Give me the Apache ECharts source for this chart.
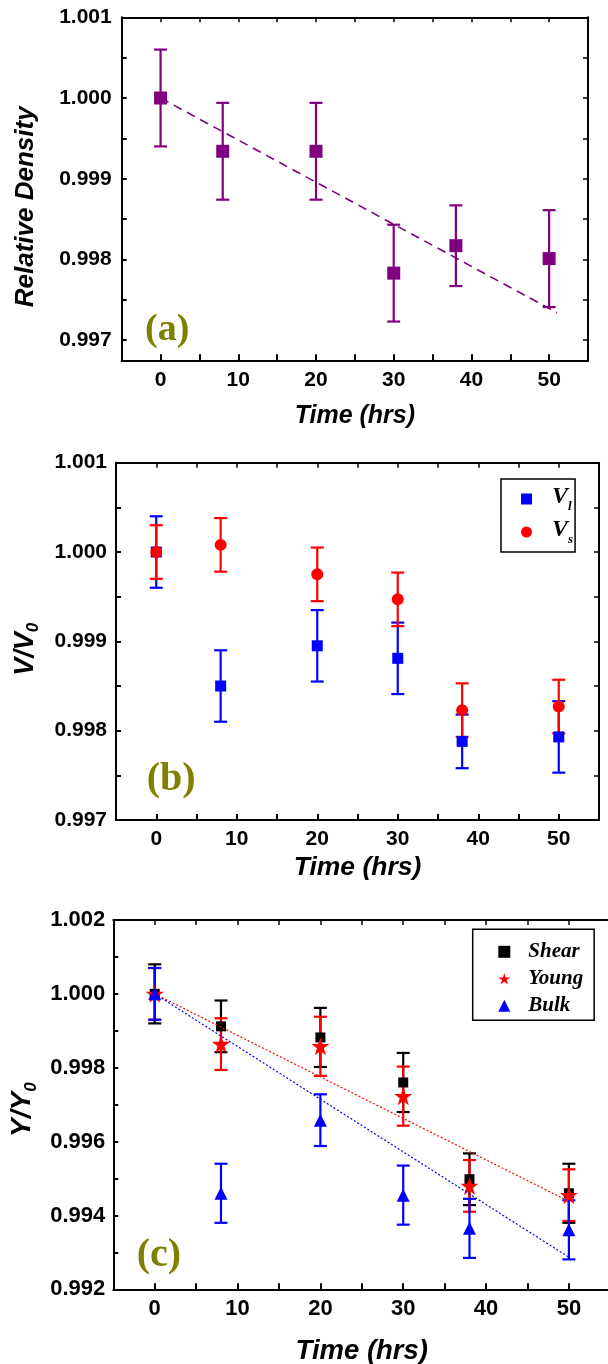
<!DOCTYPE html>
<html>
<head>
<meta charset="utf-8">
<script src="https://cdn.jsdelivr.net/npm/echarts@6/dist/echarts.min.js"></script>
<style>
html,body{margin:0;padding:0;background:#fff;}
#chart{width:608px;height:1364px;}
</style>
</head>
<body>
<div id="chart"></div>
<script>
// ---------- DATA ----------
const timeHrs = [0, 8, 20, 30, 38, 50];

// (a) relative density
const densityA = [1.0, 0.99934, 0.99934, 0.99783, 0.99817, 0.99801];
const densityErrA = [0.0006, 0.0006, 0.0006, 0.0006, 0.0005, 0.0006];
const densityFitX = [0, 51];
const densityFitY = [1.0, 0.99734];

// (b) sound velocities
const vlB = [1.0, 0.99850, 0.99895, 0.99881, 0.99788, 0.99793];
const vlErrB = [0.0004, 0.0004, 0.0004, 0.0004, 0.0003, 0.0004];
const vsB = [1.0, 1.00008, 0.99975, 0.99947, 0.99823, 0.99827];
const vsErrB = [0.0003, 0.0003, 0.0003, 0.0003, 0.0003, 0.0003];

// (c) moduli
const shearC = [1.0, 0.99912, 0.99882, 0.99760, 0.99498, 0.99460];
const shearErrC = [0.0008, 0.0007, 0.0008, 0.0008, 0.0007, 0.0008];
const youngC = [1.0, 0.99864, 0.99858, 0.99723, 0.99480, 0.99455];
const youngErrC = [0.0007, 0.0007, 0.0008, 0.0008, 0.0007, 0.0007];
const bulkC = [1.0, 0.99460, 0.99658, 0.99455, 0.99365, 0.99361];
const bulkErrC = [0.0007, 0.0008, 0.0007, 0.0008, 0.0008, 0.0008];
const youngFitX = [0, 50];
const youngFitY = [1.0, 0.99438];
const bulkFitX = [0, 50];
const bulkFitY = [1.0, 0.99287];

// tick labels
const xLabelVals = [0, 10, 20, 30, 40, 50];
const xTickVals = [0, 5, 10, 15, 20, 25, 30, 35, 40, 45, 50];
const yLabelA = [0.997, 0.998, 0.999, 1.000, 1.001];
const yTickA = [0.997, 0.9975, 0.998, 0.9985, 0.999, 0.9995, 1.000, 1.0005];
const yLabelB = [0.997, 0.998, 0.999, 1.000, 1.001];
const yTickB = [0.9975, 0.998, 0.9985, 0.999, 0.9995, 1.000, 1.0005];
const yLabelC = [0.992, 0.994, 0.996, 0.998, 1.000, 1.002];
const yTickC = [0.993, 0.994, 0.995, 0.996, 0.997, 0.998, 0.999, 1.000, 1.001];

// ---------- STYLE / HELPERS ----------
const SANS = '"Liberation Sans", Arial, sans-serif';
const SERIF = '"Liberation Serif", "Times New Roman", serif';
const STAR = 'path://M12,0 L14.9,8.6 L24,8.6 L16.6,14 L19.4,22.8 L12,17.4 L4.6,22.8 L7.4,14 L0,8.6 L9.1,8.6 Z';

function errRender(color, capW, lw) {
  return function (params, api) {
    const x = api.value(0), lo = api.value(1), hi = api.value(2);
    const a = api.coord([x, hi]), b = api.coord([x, lo]);
    const st = { stroke: color, lineWidth: lw };
    return { type: 'group', children: [
      { type: 'line', shape: { x1: a[0], y1: a[1], x2: b[0], y2: b[1] }, style: st },
      { type: 'line', shape: { x1: a[0] - capW / 2, y1: a[1], x2: a[0] + capW / 2, y2: a[1] }, style: st },
      { type: 'line', shape: { x1: b[0] - capW / 2, y1: b[1], x2: b[0] + capW / 2, y2: b[1] }, style: st }
    ]};
  };
}
function errData(vals, errs) { return timeHrs.map((t, i) => [t, vals[i] - errs[i], vals[i] + errs[i]]); }
function pts(vals) { return timeHrs.map((t, i) => [t, vals[i]]); }
function pairs(xs, ys) { return xs.map((x, i) => [x, ys[i]]); }

const AXLINE = { onZero: false, lineStyle: { color: '#000', width: 2 } };

function xAxes(gi, fs, nameFs, nameGap) {
  return [
    { type: 'value', gridIndex: gi, min: -5, max: 55, position: 'bottom',
      axisLine: AXLINE,
      axisTick: { inside: true, length: 6, customValues: xTickVals, lineStyle: { color: '#000', width: 2 } },
      axisLabel: { customValues: xLabelVals, fontSize: fs, fontWeight: 'bold', color: '#000', fontFamily: SANS, margin: 9 },
      splitLine: { show: false },
      name: 'Time (hrs)', nameLocation: 'middle', nameGap: nameGap,
      nameTextStyle: { fontSize: nameFs, fontWeight: 'bold', fontStyle: 'italic', color: '#000', fontFamily: SANS } },
    { type: 'value', gridIndex: gi, min: -5, max: 55, position: 'top',
      axisLine: AXLINE,
      axisTick: { inside: true, length: 5, customValues: xTickVals, lineStyle: { color: '#000', width: 1.5 } },
      axisLabel: { show: false }, splitLine: { show: false } }
  ];
}
function yAxes(gi, min, max, labels, ticks, fs, margin, name, nameGap, nameFs, subFs, shiftPad, showRight) {
  return [
    { type: 'value', gridIndex: gi, min: min, max: max, position: 'left',
      axisLine: AXLINE,
      axisTick: { inside: true, length: 5, customValues: ticks, lineStyle: { color: '#000', width: 2 } },
      axisLabel: { customValues: labels, fontSize: fs, fontWeight: 'bold', color: '#000', fontFamily: SANS, margin: margin,
        formatter: v => v.toFixed(3) },
      splitLine: { show: false },
      name: name, nameLocation: 'middle', nameRotate: 90, nameGap: nameGap,
      nameTextStyle: {
        fontSize: nameFs, fontWeight: 'bold', fontStyle: 'italic', color: '#000', fontFamily: SANS,
        padding: [0, shiftPad, 0, 0],
        rich: {
          m: { fontSize: nameFs, fontWeight: 'bold', fontStyle: 'italic', fontFamily: SANS, color: '#000', lineHeight: nameFs, verticalAlign: 'top' },
          s: { fontSize: subFs, fontWeight: 'bold', fontStyle: 'italic', fontFamily: SANS, color: '#000', lineHeight: subFs, verticalAlign: 'bottom' },
          h: { height: nameFs + 3, width: 0 }
        }
      } },
    { type: 'value', gridIndex: gi, min: min, max: max, position: 'right', show: showRight,
      axisLine: AXLINE,
      axisTick: { inside: true, length: 5, customValues: ticks, lineStyle: { color: '#000', width: 1.5 } },
      axisLabel: { show: false }, splitLine: { show: false } }
  ];
}

const option = {
  animation: false,
  backgroundColor: '#fff',
  grid: [
    { left: 121.7, top: 17.3, width: 466.3, height: 343, outerBoundsMode: 'none', containLabel: false },
    { left: 116, top: 462.7, width: 483, height: 357.3, outerBoundsMode: 'none', containLabel: false },
    { left: 113.3, top: 920, width: 497, height: 369.3, outerBoundsMode: 'none', containLabel: false }
  ],
  xAxis: [].concat(xAxes(0, 21, 25, 43), xAxes(1, 21, 26.5, 34), xAxes(2, 22, 27.5, 49)),
  yAxis: [].concat(
    yAxes(0, 0.99675, 1.001, yLabelA, yTickA, 21, 10, 'Relative Density', 83, 26, 16, 36, true),
    yAxes(1, 0.997, 1.001, yLabelB, yTickB, 21, 9, '{m|V/V}{s|0}{h|}', 74, 27, 17, 16, true),
    yAxes(2, 0.992, 1.002, yLabelC, yTickC, 22, 8, '{m|Y/Y}{s|0}{h|}', 67, 28, 17, 10, false)
  ),
  legend: [
    { left: 501, top: 479, orient: 'vertical', itemWidth: 11, itemHeight: 11, itemGap: 5,
      padding: [6, 2, 6, 20], borderColor: '#000', borderWidth: 1.5, backgroundColor: '#fff',
      data: [{ name: 'Vl', icon: 'rect' }, { name: 'Vs', icon: 'circle' }],
      formatter: n => '{g|}{v|V}{s|' + (n === 'Vl' ? 'l' : 's') + '}{h|}',
      textStyle: { rich: {
        g: { width: 15 },
        v: { fontSize: 24, fontWeight: 'bold', fontStyle: 'italic', fontFamily: SERIF, color: '#000', lineHeight: 24, verticalAlign: 'top' },
        s: { fontSize: 13, fontWeight: 'bold', fontStyle: 'italic', fontFamily: SERIF, color: '#000', lineHeight: 13, verticalAlign: 'bottom' },
        h: { height: 28, width: 0 }
      } } },
    { left: 472.7, top: 929.3, orient: 'vertical', itemWidth: 12, itemHeight: 12, itemGap: 6,
      padding: [12, 11, 4, 25.6], borderColor: '#000', borderWidth: 1.5, backgroundColor: '#fff',
      data: [{ name: 'Shear', icon: 'rect' }, { name: 'Young', icon: STAR }, { name: 'Bulk', icon: 'triangle' }],
      formatter: n => '{g|}{t|' + n + '}',
      textStyle: { rich: {
        g: { width: 13 },
        t: { fontSize: 21, fontWeight: 'bold', fontStyle: 'italic', fontFamily: SERIF, color: '#000', lineHeight: 22 }
      } } }
  ],
  graphic: [
    { type: 'text', left: 145, top: 311, style: { text: '(a)', font: 'bold 38px "Liberation Serif", serif', fill: '#808000' } },
    { type: 'text', left: 146.7, top: 760, style: { text: '(b)', font: 'bold 40px "Liberation Serif", serif', fill: '#808000' } },
    { type: 'text', left: 136.7, top: 1236, style: { text: '(c)', font: 'bold 40px "Liberation Serif", serif', fill: '#808000' } }
  ],
  series: [
    // (a)
    { type: 'line', name: 'DensityFit', xAxisIndex: 0, yAxisIndex: 0, data: pairs(densityFitX, densityFitY),
      showSymbol: false, lineStyle: { color: '#800080', width: 1.6, type: [9, 6] }, silent: true },
    { type: 'custom', name: 'DensityErr', xAxisIndex: 0, yAxisIndex: 0, data: errData(densityA, densityErrA),
      encode: { x: 0, y: [1, 2] }, renderItem: errRender('#800080', 13, 2.2), silent: true },
    { type: 'scatter', name: 'Density', xAxisIndex: 0, yAxisIndex: 0, data: pts(densityA),
      symbol: 'rect', symbolSize: 13, itemStyle: { color: '#800080', opacity: 1 } },
    // (b)
    { type: 'custom', name: 'VlErr', xAxisIndex: 2, yAxisIndex: 2, data: errData(vlB, vlErrB),
      encode: { x: 0, y: [1, 2] }, renderItem: errRender('#0000ff', 13, 2.2), silent: true },
    { type: 'scatter', name: 'Vl', xAxisIndex: 2, yAxisIndex: 2, data: pts(vlB),
      symbol: 'rect', symbolSize: 11, itemStyle: { color: '#0000ff', opacity: 1 } },
    { type: 'custom', name: 'VsErr', xAxisIndex: 2, yAxisIndex: 2, data: errData(vsB, vsErrB),
      encode: { x: 0, y: [1, 2] }, renderItem: errRender('#ff0000', 13, 2.2), silent: true },
    { type: 'scatter', name: 'Vs', xAxisIndex: 2, yAxisIndex: 2, data: pts(vsB),
      symbol: 'circle', symbolSize: 12, itemStyle: { color: '#ff0000', opacity: 1 } },
    // (c)
    { type: 'custom', name: 'ShearErr', xAxisIndex: 4, yAxisIndex: 4, data: errData(shearC, shearErrC),
      encode: { x: 0, y: [1, 2] }, renderItem: errRender('#000000', 13, 2.2), silent: true },
    { type: 'scatter', name: 'Shear', xAxisIndex: 4, yAxisIndex: 4, data: pts(shearC),
      symbol: 'rect', symbolSize: 10, itemStyle: { color: '#000000', opacity: 1 } },
    { type: 'custom', name: 'YoungErr', xAxisIndex: 4, yAxisIndex: 4, data: errData(youngC, youngErrC),
      encode: { x: 0, y: [1, 2] }, renderItem: errRender('#ff0000', 13, 2.2), silent: true },
    { type: 'scatter', name: 'Young', xAxisIndex: 4, yAxisIndex: 4, data: pts(youngC),
      symbol: STAR, symbolSize: 18, itemStyle: { color: '#ff0000', opacity: 1 } },
    { type: 'custom', name: 'BulkErr', xAxisIndex: 4, yAxisIndex: 4, data: errData(bulkC, bulkErrC),
      encode: { x: 0, y: [1, 2] }, renderItem: errRender('#0000ff', 13, 2.2), silent: true },
    { type: 'scatter', name: 'Bulk', xAxisIndex: 4, yAxisIndex: 4, data: pts(bulkC),
      symbol: 'triangle', symbolSize: 13, itemStyle: { color: '#0000ff', opacity: 1 } },
    { type: 'line', name: 'YoungFit', xAxisIndex: 4, yAxisIndex: 4, data: pairs(youngFitX, youngFitY),
      showSymbol: false, lineStyle: { color: '#ff0000', width: 1.2, type: [2, 2] }, silent: true, z: 3 },
    { type: 'line', name: 'BulkFit', xAxisIndex: 4, yAxisIndex: 4, data: pairs(bulkFitX, bulkFitY),
      showSymbol: false, lineStyle: { color: '#0000ff', width: 1.2, type: [2, 2] }, silent: true, z: 3 }
  ]
};

const chart = echarts.init(document.getElementById('chart'), null, { renderer: 'canvas', width: 608, height: 1364 });
chart.setOption(option);
</script>
</body>
</html>
